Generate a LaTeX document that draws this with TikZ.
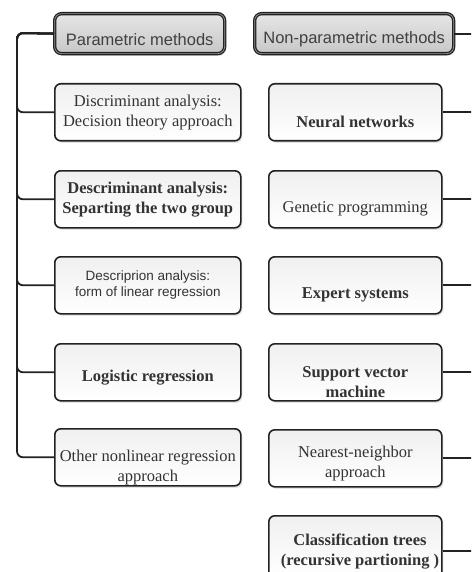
\documentclass[tikz,border=0pt]{standalone}
\usepackage{fontspec}
\setmainfont{Liberation Serif}
\newfontfamily\arialf{Liberation Sans}
\usetikzlibrary{shadows}
\definecolor{ink}{HTML}{222222}
\definecolor{txtc}{HTML}{333333}
\tikzset{
  box/.style={rectangle, draw=ink, line width=1.6pt, rounded corners=6pt,
    top color=black!6, bottom color=white, inner sep=0pt,
    drop shadow={shadow xshift=1.5pt, shadow yshift=-2pt, opacity=0.22},
    anchor=north west},
  lbox/.style={box, minimum width=186pt, minimum height=57pt},
  rbox/.style={box, minimum width=173pt, minimum height=57pt},
  head/.style={rectangle, draw=ink, line width=1.3pt, double=black!40, double distance=0.7pt,
    rounded corners=7pt, top color=black!10, bottom color=black!22, inner sep=0pt,
    drop shadow={shadow xshift=1.5pt, shadow yshift=-2pt, opacity=0.25},
    anchor=north west, minimum height=40pt},
  txt/.style={align=center, text=txtc, inner sep=0pt, font=\fontsize{16.5}{20}\selectfont},
  btxt/.style={txt, font=\fontsize{16.5}{20}\selectfont\bfseries},
  stxt/.style={txt, font=\arialf\fontsize{13.5}{16}\selectfont},
  htxt/.style={txt, text=black!75, font=\arialf\fontsize{16.5}{20}\selectfont},
  conn/.style={draw=ink, line width=1.8pt, rounded corners=6pt}
}
\begin{document}
\begin{tikzpicture}[x=1pt, y=-1pt]
\useasboundingbox (0,0) rectangle (471,572);
\fill[white] (0,0) rectangle (471,572);
\begin{scope}
\clip (0,0) rectangle (471,572);
% headers
\node[head, minimum width=170pt] (ph) at (54,13) {};
\node[htxt] (pht) at ([yshift=-6pt]ph.center) {Parametric methods};
\node[head, minimum width=199pt] (nh) at (254,13) {};
\node[htxt] (nht) at ([yshift=-6pt]nh.center) {Non-parametric methods};
% left boxes
\node[lbox] (l1) at (54,83) {};
\node[txt] (l1t) at (l1.center) {Discriminant analysis:\\Decision theory approach};
\node[lbox] (l2) at (54,170) {};
\node[btxt] (l2t) at (l2.center) {Descriminant analysis:\\Separting the two group};
\node[lbox] (l3) at (54,256) {};
\node[stxt] (l3t) at (l3.center) {Descriprion analysis:\\form of linear regression};
\node[lbox] (l4) at (54,343) {};
\node[btxt] (l4t) at ([yshift=-5pt]l4.center) {Logistic regression};
\node[lbox] (l5) at (54,428) {};
\node[txt] (l5t) at ([yshift=-10pt]l5.center) {Other nonlinear regression\\approach};
% right boxes
\node[rbox] (r1) at (268,83) {};
\node[btxt] (r1t) at ([yshift=-10pt]r1.center) {Neural networks};
\node[rbox] (r2) at (268,170) {};
\node[txt] (r2t) at ([yshift=-10pt]r2.center) {Genetic programming};
\node[rbox] (r3) at (268,256) {};
\node[btxt] (r3t) at ([yshift=-10pt]r3.center) {Expert systems};
\node[rbox] (r4) at (268,343) {};
\node[btxt] (r4t) at ([yshift=-10pt]r4.center) {Support vector\\machine};
\node[rbox] (r5) at (268,429) {};
\node[txt] (r5t) at ([yshift=-5pt]r5.center) {Nearest-neighbor\\approach};
\node[rbox, minimum height=62pt] (r6) at (268,515) {};
\node[btxt] (r6t) at (360,552) {Classification trees\\(recursive partioning )};
% left connectors
\coordinate (tk) at (17,33);
\draw[conn] (ph.west) -- (tk) |- (l1.west);
\draw[conn] (ph.west) -- (tk) |- (l2.west);
\draw[conn] (ph.west) -- (tk) |- (l3.west);
\draw[conn] (ph.west) -- (tk) |- (l4.west);
\draw[conn] (ph.west) -- (tk) |- (l5.west);
% right connectors (trunk lies beyond the right edge)
\coordinate (edge) at (475,0);
\draw[conn] (nh.east) -- (nh.east -| edge);
\draw[conn] (r1.east) -- (r1.east -| edge);
\draw[conn] (r2.east) -- (r2.east -| edge);
\draw[conn] (r3.east) -- (r3.east -| edge);
\draw[conn] (r4.east) -- (r4.east -| edge);
\draw[conn] (r5.east) -- (r5.east -| edge);
\draw[conn] ([yshift=-4pt]r6.east) -- ([yshift=-4pt]r6.east -| edge);
\end{scope}
\end{tikzpicture}
\end{document}
